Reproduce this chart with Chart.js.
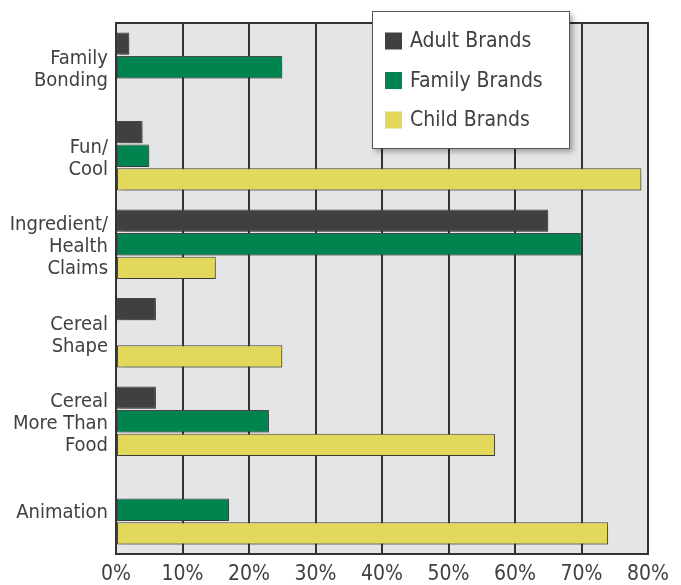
<!DOCTYPE html>
<html>
<head>
<meta charset="utf-8">
<script src="https://cdn.jsdelivr.net/npm/chart.js@4/dist/chart.umd.min.js"></script>
<style>
  html, body { margin: 0; padding: 0; background: #ffffff; }
  #wrap { width: 681px; height: 585px; }
</style>
</head>
<body>
<div id="wrap"><canvas id="c" width="681" height="585"></canvas></div>
<script>
// Message themes (multi-line category labels)
const categories = [
  ["Family", "Bonding"],
  ["Fun/", "Cool"],
  ["Ingredient/", "Health", "Claims"],
  ["Cereal", "Shape"],
  ["Cereal", "More Than", "Food"],
  ["Animation"]
];

// Share of ads using each theme, in percent (null = no bar)
const adultBrands  = [2, 4, 65, 6, 6, null];
const familyBrands = [25, 5, 70, null, 23, 17];
const childBrands  = [null, 79, 15, 25, 57, 74];

const seriesNames  = ["Adult Brands", "Family Brands", "Child Brands"];
const seriesColors = ["#404042", "#00844f", "#e2d85c"];

const xTicks = [0, 10, 20, 30, 40, 50, 60, 70, 80];

const FONT = "'Liberation Sans Narrow', 'DejaVu Sans Condensed', 'Arial Narrow', sans-serif";
const TEXT = '#404040';

// Grey plot panel with a dark frame, drawn under the bars
const panelPlugin = {
  id: 'panel',
  beforeDraw(chart) {
    const { ctx, chartArea: a } = chart;
    ctx.save();
    ctx.fillStyle = '#e4e5e7';
    ctx.fillRect(a.left, a.top, a.right - a.left, a.bottom - a.top);
    ctx.restore();
  },
  beforeDatasetsDraw(chart) {
    const { ctx, chartArea: a } = chart;
    ctx.save();
    ctx.strokeStyle = '#333333';
    ctx.lineWidth = 2;
    ctx.strokeRect(a.left, a.top, a.right - a.left, a.bottom - a.top);
    ctx.restore();
  }
};

// Soft drop shadow behind every bar
const shadowPlugin = {
  id: 'barShadow',
  beforeDatasetsDraw(chart) {
    const ctx = chart.ctx;
    ctx.save();
    ctx.shadowColor = 'rgba(0,0,0,0.28)';
    ctx.shadowBlur = 5;
    ctx.shadowOffsetX = 3;
    ctx.shadowOffsetY = 3;
  },
  afterDatasetsDraw(chart) {
    chart.ctx.restore();
  }
};

// Boxed legend floating over the upper right of the panel
const legendBoxPlugin = {
  id: 'legendBox',
  afterDraw(chart) {
    const ctx = chart.ctx;
    const x = 372, y = 11, w = 198, h = 138;
    ctx.save();
    ctx.shadowColor = 'rgba(0,0,0,0.3)';
    ctx.shadowBlur = 5;
    ctx.shadowOffsetX = 3;
    ctx.shadowOffsetY = 3;
    ctx.fillStyle = '#ffffff';
    ctx.fillRect(x, y, w, h);
    ctx.restore();
    ctx.save();
    ctx.strokeStyle = '#555555';
    ctx.lineWidth = 1;
    ctx.strokeRect(x + 0.5, y + 0.5, w - 1, h - 1);
    ctx.font = '21px ' + FONT;
    ctx.textBaseline = 'middle';
    ctx.textAlign = 'left';
    chart.data.datasets.forEach((ds, i) => {
      const cy = 41 + i * 39.5;
      ctx.fillStyle = ds.backgroundColor;
      ctx.fillRect(385, cy - 8.5, 17, 17);
      ctx.fillStyle = TEXT;
      ctx.fillText(ds.label, 410, cy + 1);
    });
    ctx.restore();
  }
};

const values = [adultBrands, familyBrands, childBrands];

new Chart(document.getElementById('c'), {
  type: 'bar',
  data: {
    labels: categories,
    datasets: values.map((v, i) => ({
      label: seriesNames[i],
      data: v,
      backgroundColor: seriesColors[i],
      borderColor: '#4a4a4a',
      borderWidth: 1,
      borderSkipped: false,
      barPercentage: 0.95,
      categoryPercentage: 0.8
    }))
  },
  options: {
    indexAxis: 'y',
    responsive: false,
    animation: false,
    devicePixelRatio: 1,
    layout: { padding: { left: 0, top: 23, right: 33, bottom: 0 } },
    plugins: {
      legend: { display: false },
      tooltip: { enabled: false },
      title: { display: false }
    },
    scales: {
      x: {
        type: 'linear',
        min: xTicks[0],
        max: xTicks[xTicks.length - 1],
        afterBuildTicks(scale) {
          scale.ticks = xTicks.map(v => ({ value: v }));
        },
        afterFit(scale) { scale.height = 31; },
        grid: {
          color: '#333333',
          lineWidth: 2,
          drawTicks: false
        },
        border: { display: false },
        ticks: {
          padding: 8,
          color: TEXT,
          font: { family: FONT, size: 21 },
          callback: v => v + '%',
          maxRotation: 0
        }
      },
      y: {
        afterFit(scale) { scale.width = 116; },
        grid: { display: false, drawTicks: false },
        border: { display: false },
        ticks: {
          padding: 8,
          labelOffset: 3,
          color: TEXT,
          font: { family: FONT, size: 20, lineHeight: 1.1 },
          crossAlign: 'near'
        }
      }
    }
  },
  plugins: [panelPlugin, shadowPlugin, legendBoxPlugin]
});
</script>
</body>
</html>
